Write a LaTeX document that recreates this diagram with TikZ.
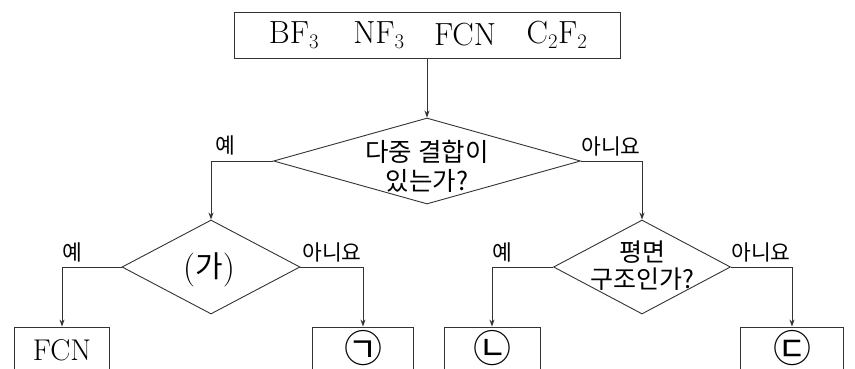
\documentclass[tikz,border=0pt]{standalone}
\usepackage{fontspec}
\newfontfamily\kr{Noto Sans CJK KR}
\usetikzlibrary{shapes.geometric,arrows.meta}
\begin{document}
\begin{tikzpicture}[x=1pt,y=-1pt,
  line/.style={draw=black!80, line width=0.9pt},
  arr/.style={line, -{Stealth[length=7pt,width=5pt]}},
  box/.style={line, rectangle, inner sep=0pt, minimum height=46pt},
  dia/.style={line, diamond, inner sep=0pt},
  lab/.style={font=\kr\fontsize{21.5}{24}\selectfont, inner sep=0pt},
  qtext/.style={font=\kr\fontsize{25.5}{29}\selectfont, align=center, inner sep=0pt},
  chem/.style={font=\fontsize{32}{34}\selectfont, inner sep=0pt},
  circ/.style={inner sep=0pt, font=\kr\fontsize{38}{40}\selectfont}
]
\useasboundingbox (0,0) rectangle (855,368);
\clip (0,0) rectangle (855,368);
% top box
\node[box, minimum width=386pt] (top) at (427,35) {};
\node[chem] (t1) at (294,35) {BF$_3$};
\node[chem] (t2) at (379,35) {NF$_3$};
\node[chem] (t3) at (465,35) {FCN};
\node[chem] (t4) at (557,35) {C$_2$F$_2$};
% diamonds
\node[dia, minimum width=307pt, minimum height=86pt] (d1) at (427,161) {};
\node[qtext] (q1) at (427,166) {다중 결합이\\있는가?};
\node[dia, minimum width=178pt, minimum height=94pt] (d2) at (211,267) {};
\node[inner sep=0pt, font=\fontsize{34}{36}\selectfont] (q2) at (209,270) {(\raisebox{0.04em}{\kr\fontsize{30}{32}\selectfont 가})};
\node[dia, minimum width=177pt, minimum height=94pt] (d3) at (642,267) {};
\node[qtext, font=\kr\fontsize{25}{27}\selectfont] (q3) at (642,266) {평면\\구조인가?};
% bottom boxes
\node[box, minimum width=95pt] (b1) at (62,350) {};
\node[chem, font=\fontsize{30}{32}\selectfont] (b1t) at (62,350) {FCN};
\node[box, minimum width=101pt] (b2) at (363,350) {};
\node[circ] (b2t) at (363,348) {㉠};
\node[box, minimum width=96pt] (b3) at (492,350) {};
\node[circ] (b3t) at (492,348) {㉡};
\node[box, minimum width=103pt] (b4) at (792,350) {};
\node[circ] (b4t) at (792,348) {㉢};
% connectors
\draw[arr] (top.south) -- (d1.north);
\draw[arr] (d1.west) -| (d2.north);
\draw[arr] (d1.east) -| (d3.north);
\draw[arr] (d2.west) -| (b1.north);
\draw[arr] (d2.east) -| (b2.north);
\draw[arr] (d3.west) -| (b3.north);
\draw[arr] (d3.east) -| (b4.north);
% labels
\node[lab] (l1) at (225,145) {예};
\node[lab] (l2) at (611,146) {아니요};
\node[lab] (l3) at (72,252) {예};
\node[lab] (l4) at (332,252) {아니요};
\node[lab] (l5) at (502,252) {예};
\node[lab] (l6) at (761,252) {아니요};
\end{tikzpicture}
\end{document}
